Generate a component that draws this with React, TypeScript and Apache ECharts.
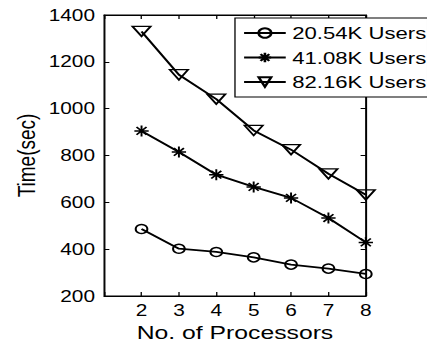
import React, { useEffect, useRef } from "react";
import * as echarts from "echarts";

const processors = [2, 3, 4, 5, 6, 7, 8];
const users20k = [486, 402, 388, 365, 334, 317, 294];
const users41k = [905, 815, 718, 666, 619, 533, 429];
const users82k = [1330, 1145, 1041, 907, 825, 722, 632];
const seriesNames = ["20.54K Users", "41.08K Users", "82.16K Users"];
const yTicks = [200, 400, 600, 800, 1000, 1200, 1400];

const FONT = "Liberation Sans, Arial, Helvetica, sans-serif";
const SX = 427 / 328;

const STAR = "path://M0,-10 L0,10 M-10,0 L10,0 M-7,-7 L7,7 M-7,7 L7,-7";
const TRI = "path://M0,0 L20,0 L10,14 Z";

export default function App() {
  const ref = useRef<HTMLDivElement>(null);
  useEffect(() => {
    if (!ref.current) return;
    const chart = echarts.init(ref.current, null, { renderer: "svg" });
    const pair = (vals: number[]) => processors.map((p, i) => [p, vals[i]]);
    const common = {
      type: "line",
      xAxisIndex: 0,
      yAxisIndex: 0,
      lineStyle: { color: "#000", width: 1.8 },
      itemStyle: { color: "rgba(0,0,0,0)", borderColor: "#000", borderWidth: 1.5 },
      emphasis: { disabled: true },
      z: 3,
    };
    chart.setOption({
      animation: false,
      backgroundColor: "#fff",
      textStyle: { fontFamily: FONT, color: "#000" },
      grid: {
        left: 80,
        right: 47,
        top: 15,
        bottom: 51,
        show: true,
        borderColor: "#000",
        borderWidth: 1,
        backgroundColor: "#fff",
      },
      legend: {
        orient: "vertical",
        left: 180.5,
        top: 18,
        padding: [6.5, 1, 6.5, 6],
        itemWidth: 32,
        itemHeight: 12,
        itemGap: 7.5,
        backgroundColor: "#fff",
        borderColor: "#000",
        borderWidth: 1,
        borderRadius: 0,
        textStyle: { fontFamily: FONT, fontSize: 17, color: "#000" },
        data: seriesNames,
        z: 10,
      },
      xAxis: [
        {
          type: "value",
          min: 1,
          max: 8,
          interval: 1,
          name: "No. of Processors",
          nameLocation: "middle",
          nameGap: 27,
          nameMoveOverlap: false,
          nameTextStyle: { fontFamily: FONT, fontSize: 19, color: "#000" },
          axisLine: { show: true, lineStyle: { color: "#000", width: 1 } },
          axisTick: { show: true, inside: true, length: 4, lineStyle: { color: "#000" } },
          axisLabel: {
            fontFamily: FONT,
            fontSize: 16,
            color: "#000",
            margin: 6,
            formatter: (v: number) => (v >= 2 ? String(v) : ""),
          },
          splitLine: { show: false },
        },
        {
          type: "value",
          position: "top",
          min: 1,
          max: 8,
          interval: 1,
          axisLine: { show: true, lineStyle: { color: "#000", width: 1 } },
          axisTick: { show: true, inside: true, length: 4, lineStyle: { color: "#000" } },
          axisLabel: { show: false },
          splitLine: { show: false },
        },
      ],
      yAxis: [
        {
          type: "value",
          min: yTicks[0],
          max: yTicks[yTicks.length - 1],
          interval: 200,
          name: "Time(sec)",
          nameLocation: "middle",
          nameGap: 50,
          nameMoveOverlap: false,
          nameTextStyle: { fontFamily: FONT, fontSize: 19, color: "#000" },
          axisLine: { show: true, lineStyle: { color: "#000", width: 1 } },
          axisTick: { show: true, inside: true, length: 4, lineStyle: { color: "#000" } },
          axisLabel: {
            fontFamily: FONT,
            fontSize: 16,
            color: "#000",
            margin: 7,
            formatter: (v: number) => String(v),
          },
          splitLine: { show: false },
        },
        {
          type: "value",
          position: "right",
          min: yTicks[0],
          max: yTicks[yTicks.length - 1],
          interval: 200,
          axisLine: { show: true, lineStyle: { color: "#000", width: 1 } },
          axisTick: { show: true, inside: true, length: 4, lineStyle: { color: "#000" } },
          axisLabel: { show: false },
          splitLine: { show: false },
        },
      ],
      series: [
        { ...common, name: seriesNames[0], data: pair(users20k), symbol: "circle", symbolSize: 9 },
        { ...common, name: seriesNames[1], data: pair(users41k), symbol: STAR, symbolSize: 11 },
        { ...common, name: seriesNames[2], data: pair(users82k), symbol: TRI, symbolSize: [14, 10], symbolKeepAspect: false },
      ],
    });
    return () => chart.dispose();
  }, []);
  return (
    <div style={{ position: "fixed", left: 0, top: 0, width: 427, height: 347, overflow: "hidden", background: "#fff" }}>
      <div
        ref={ref}
        style={{
          position: "absolute",
          left: 0,
          top: 0,
          width: 328,
          height: 347,
          transform: `scaleX(${SX})`,
          transformOrigin: "0 0",
        }}
      />
    </div>
  );
}
